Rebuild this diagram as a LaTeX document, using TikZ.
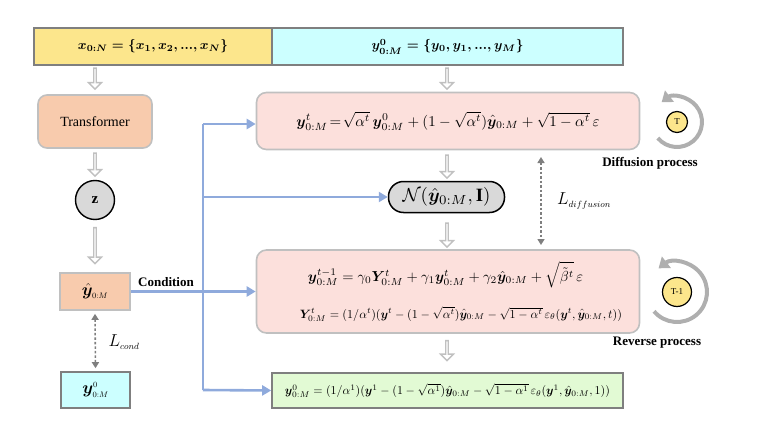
\documentclass[tikz,border=0pt]{standalone}
\usepackage{amsmath,bm,graphicx}
\usepackage{fontspec}
\setmainfont{Liberation Serif}
\usetikzlibrary{arrows.meta,shapes.arrows,calc}
\definecolor{ylw}{RGB}{252,230,140}
\definecolor{cyn}{RGB}{204,255,255}
\definecolor{pnk}{RGB}{252,224,220}
\definecolor{peach}{RGB}{248,203,173}
\definecolor{grn}{RGB}{226,250,212}
\definecolor{lgry}{RGB}{217,217,217}
\definecolor{bdr}{RGB}{192,192,192}
\definecolor{dbdr}{RGB}{127,127,127}
\definecolor{blu}{RGB}{143,170,220}
\definecolor{loopc}{RGB}{175,175,175}
\begin{document}
\begin{tikzpicture}[x=1pt,y=1pt,
  box/.style={draw, line width=1.6pt, inner sep=0pt, minimum width=#1},
  hollow/.style={single arrow, draw=bdr, fill=white, line width=1.4pt, shape border rotate=270,
     minimum width=13pt, single arrow head extend=3pt, single arrow tip angle=90, single arrow head indent=0pt,
     inner sep=0pt, minimum height=#1},
  blueline/.style={draw=blu, line width=2.6pt},
  bluearr/.style={blueline, -{Triangle[length=9pt,width=10pt]}},
  dasharr/.style={draw=dbdr, line width=1.6pt, dash pattern=on 2.5pt off 2pt, {Triangle[length=6pt,width=7pt]}-{Triangle[length=6pt,width=7pt]}},
  loop/.style={draw=loopc, line width=4pt, -{Triangle[length=10pt,width=14pt]}},
  lbl/.style={font=\bfseries\fontsize{13}{15}\selectfont},
  bigm/.style={font=\fontsize{17}{20}\selectfont}
]
\useasboundingbox (0,0) rectangle (761,-436);
% top bar
\node[box, draw=dbdr, fill=ylw, minimum width=238pt, minimum height=37pt] (xs) at (153,-46.5)
  {\resizebox{150pt}{!}{\boldmath$x_{0:N}=\{x_1,x_2,...,x_N\}$}};
\node[box, draw=dbdr, fill=cyn, minimum width=351pt, minimum height=37pt] (ys) at (447.5,-46.5)
  {\resizebox{152pt}{!}{\boldmath$y^0_{0:M}=\{y_0,y_1,...,y_M\}$}};
% left column
\node[box, draw=bdr, fill=peach, rounded corners=9pt, minimum width=114pt, minimum height=53pt, font=\fontsize{14}{16}\selectfont] (tf) at (95,-121.5) {Transformer};
\node[circle, draw=black, line width=1.4pt, fill=lgry, minimum size=39pt, inner sep=0pt, font=\bfseries\fontsize{15}{17}\selectfont] (z) at (95,-200) {z};
\node[box, draw=bdr, fill=peach, minimum width=70pt, minimum height=37pt, bigm] (yh) at (95,-291.5) {$\hat{\bm{y}}_{\scriptscriptstyle 0:M}$};
\node[box, draw=dbdr, fill=cyn, minimum width=69pt, minimum height=36pt, bigm] (y0) at (95.5,-390) {$\bm{y}^{\scriptscriptstyle 0}_{\scriptscriptstyle 0:M}$};
\node[hollow=21pt] (h1) at (95,-78) {};
\node[hollow=23pt] (h2) at (95,-164) {};
\node[hollow=36pt] (h3) at (95,-245) {};
\path (yh.south) ++(0,-3) coordinate (c1) (y0.north) ++(0,3) coordinate (c2);
\draw[dasharr] (c1) -- (c2);
\node[font=\fontsize{19}{22}\selectfont] (lc) at (124,-342) {$L_{\scriptscriptstyle cond}$};
% right column
\node[box, draw=bdr, fill=pnk, rounded corners=10pt, minimum width=383pt, minimum height=57pt] (p1) at (448,-121) {
  \resizebox{303pt}{!}{$\bm{y}^t_{0:M}\!=\!\sqrt{\alpha^t}\,\bm{y}^0_{0:M}+(1-\sqrt{\alpha^t})\hat{\bm{y}}_{0:M}+\sqrt{1-\alpha^t}\,\varepsilon$}};
\node[box, draw=black, line width=1.5pt, fill=lgry, rounded corners=15pt, minimum width=116pt, minimum height=31pt] (nn) at (446.5,-197)
  {\resizebox{88pt}{!}{$\mathcal{N}(\hat{\bm{y}}_{0:M},\mathbf{I})$}};
\node[box, draw=bdr, fill=pnk, rounded corners=10pt, minimum width=383pt, minimum height=83pt] (p2) at (448,-291.5) {};
\node (f2) at (445.5,-275) {\resizebox{275pt}{!}{$\bm{y}^{t-1}_{0:M}=\gamma_0\bm{Y}^t_{0:M}+\gamma_1\bm{y}^t_{0:M}+\gamma_2\hat{\bm{y}}_{0:M}+\sqrt{\tilde{\beta}^t}\,\varepsilon$}};
\node (f3) at (461,-314) {\resizebox{322pt}{!}{$\bm{Y}^t_{0:M}=(1/\alpha^t)(\bm{y}^t-(1-\sqrt{\alpha^t})\hat{\bm{y}}_{0:M}-\sqrt{1-\alpha^t}\,\varepsilon_\theta(\bm{y}^t,\hat{\bm{y}}_{0:M},t))$}};
\node[box, draw=dbdr, fill=grn, minimum width=351pt, minimum height=35pt] (gr) at (447.5,-390.5)
  {\resizebox{325pt}{!}{$\bm{y}^0_{0:M}=(1/\alpha^1)(\bm{y}^1-(1-\sqrt{\alpha^1})\hat{\bm{y}}_{0:M}-\sqrt{1-\alpha^1}\,\varepsilon_\theta(\bm{y}^1,\hat{\bm{y}}_{0:M},1))$}};
\node[hollow=21pt] (h4) at (447,-78) {};
\node[hollow=23pt] (h5) at (447,-166) {};
\node[hollow=24pt] (h6) at (447,-234.5) {};
\node[hollow=20pt] (h7) at (447,-350) {};
\coordinate (dt) at (541,-157);
\coordinate (db) at (541,-245);
\draw[dasharr] (dt) -- (db);
\node[font=\fontsize{19}{22}\selectfont] (ld) at (584,-201) {$L_{\scriptscriptstyle diffusion}$};
% blue connectors
\coordinate (bt) at (203,-124);
\coordinate (bm) at (203,-197);
\coordinate (bb) at (203,-390);
\draw[blueline] (bt) -- (bb);
\draw[bluearr] (yh.east) -- (p2.west |- yh.east);
\draw[bluearr] (bt) -- (p1.west |- bt);
\draw[bluearr] (bm) -- (nn.west);
\draw[bluearr] (bb) -- (gr.west);
\node[lbl] (cond) at (166,-282) {Condition};
% loops
\node[circle, draw=black, line width=1.2pt, fill=ylw, minimum size=21pt, inner sep=0pt, font=\fontsize{9}{10}\selectfont] (T) at (677,-122) {T};
\draw[loop] ([shift={(-140:25)}]T.center) arc[start angle=-140, end angle=128, radius=25];
\node[lbl] (dp) at (650,-163) {Diffusion process};
\node[circle, draw=black, line width=1.2pt, fill=ylw, minimum size=29pt, inner sep=0pt, font=\fontsize{9}{10}\selectfont] (T1) at (677,-292) {T-1};
\draw[loop] ([shift={(-140:30)}]T1.center) arc[start angle=-140, end angle=128, radius=30];
\node[lbl] (rp) at (657,-343) {Reverse process};
\end{tikzpicture}
\end{document}
